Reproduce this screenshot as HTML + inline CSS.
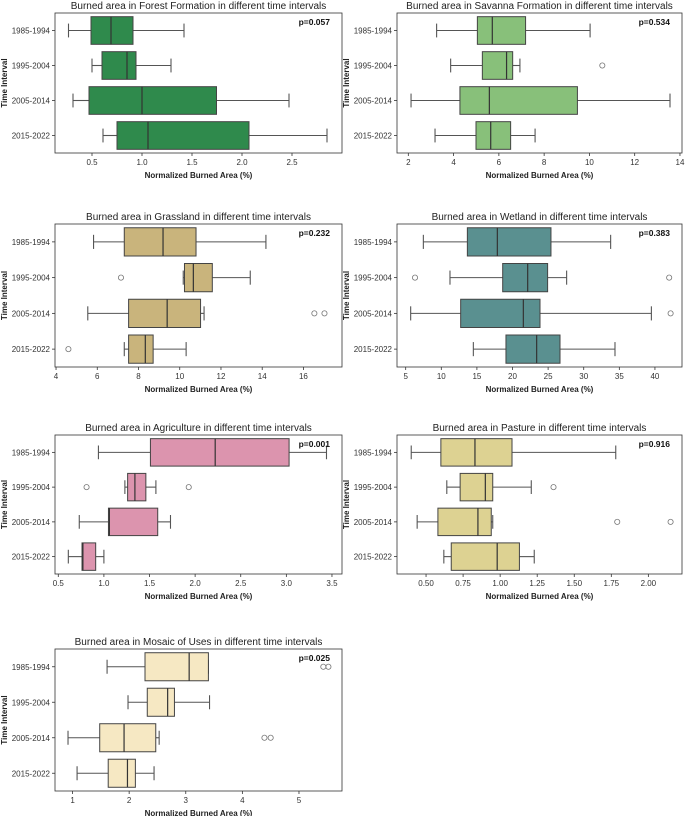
<!DOCTYPE html>
<html><head><meta charset="utf-8"><style>
html,body{margin:0;padding:0;background:#fff;}
svg{display:block;font-family:"Liberation Sans",sans-serif;}
</style></head><body>
<svg id="chart" width="685" height="816" viewBox="0 0 685 816" xmlns="http://www.w3.org/2000/svg"></svg>
<script>
const categories = ["1985-1994","1995-2004","2005-2014","2015-2022"];
// each row: [whiskerLow, q1, median, q3, whiskerHigh]
const forestStats = [[0.265,0.49,0.69,0.91,1.42],[0.50,0.60,0.85,0.94,1.29],[0.31,0.47,1.0,1.745,2.47],[0.61,0.75,1.06,2.07,2.85]];
const forestOutliers = [[],[],[],[]];
const savannaStats = [[3.25,5.05,5.71,7.18,10.03],[3.87,5.27,6.34,6.61,6.93],[2.12,4.28,5.58,9.47,13.56],[3.18,4.99,5.64,6.52,7.6]];
const savannaOutliers = [[],[10.57],[],[]];
const grassStats = [[5.82,7.31,9.19,10.79,14.18],[10.17,10.23,10.66,11.58,13.42],[5.54,7.52,9.39,11.01,11.18],[7.31,7.52,8.33,8.71,10.31]];
const grassOutliers = [[],[7.15],[16.53,17.02],[4.6]];
const wetStats = [[7.48,13.66,17.87,25.4,33.78],[11.22,18.62,22.13,24.93,27.6],[5.7,12.72,21.52,23.86,39.5],[14.5,19.08,23.39,26.67,34.39]];
const wetOutliers = [[],[6.31,42.0],[42.2],[]];
const agriStats = [[0.94,1.51,2.22,3.03,3.44],[1.23,1.26,1.34,1.46,1.57],[0.73,1.05,1.06,1.59,1.73],[0.61,0.76,0.77,0.91,1.0]];
const agriOutliers = [[],[0.81,1.93],[],[]];
const pastStats = [[0.40,0.60,0.83,1.08,1.78],[0.64,0.73,0.90,0.95,1.21],[0.44,0.58,0.85,0.94,0.95],[0.62,0.67,0.98,1.13,1.23]];
const pastOutliers = [[],[1.36],[1.79,2.15],[]];
const mosaicStats = [[1.61,2.28,3.06,3.40,3.40],[1.98,2.32,2.68,2.80,3.42],[0.92,1.48,1.91,2.47,2.53],[1.08,1.63,1.97,2.11,2.44]];
const mosaicOutliers = [[5.43,5.52],[],[4.39,4.5],[]];
const forestTicks = [0.5,1.0,1.5,2.0,2.5];
const savannaTicks = [2,4,6,8,10,12,14];
const grassTicks = [4,6,8,10,12,14,16];
const wetTicks = [5,10,15,20,25,30,35,40];
const agriTicks = [0.5,1.0,1.5,2.0,2.5,3.0,3.5];
const pastTicks = [0.5,0.75,1.0,1.25,1.5,1.75,2.0];
const mosaicTicks = [1,2,3,4,5];
const pValues = ["p=0.057","p=0.534","p=0.232","p=0.383","p=0.001","p=0.916","p=0.025"];

const NS="http://www.w3.org/2000/svg";
const svg=document.getElementById('chart');
function mk(tag,attrs,parent){const e=document.createElementNS(NS,tag);for(const k in attrs)e.setAttribute(k,attrs[k]);(parent||svg).appendChild(e);return e;}

const panels=[
 {name:"forest",title:"Burned area in Forest Formation in different time intervals",stats:forestStats,out:forestOutliers,ticks:forestTicks,dom:[0.13,3.0],x0:55,x1:342,y0:13,y1:153,color:"#2f8a4c",dec:1,p:pValues[0]},
 {name:"savanna",title:"Burned area in Savanna Formation in different time intervals",stats:savannaStats,out:savannaOutliers,ticks:savannaTicks,dom:[1.5,14.09],x0:397,x1:682,y0:13,y1:153,color:"#88c07a",dec:0,p:pValues[1]},
 {name:"grassland",title:"Burned area in Grassland in different time intervals",stats:grassStats,out:grassOutliers,ticks:grassTicks,dom:[3.95,17.87],x0:55,x1:342,y0:224,y1:367,color:"#c9b47c",dec:0,p:pValues[2]},
 {name:"wetland",title:"Burned area in Wetland in different time intervals",stats:wetStats,out:wetOutliers,ticks:wetTicks,dom:[3.78,43.8],x0:397,x1:682,y0:224,y1:367,color:"#5a9090",dec:0,p:pValues[3]},
 {name:"agriculture",title:"Burned area in Agriculture in different time intervals",stats:agriStats,out:agriOutliers,ticks:agriTicks,dom:[0.464,3.61],x0:55,x1:342,y0:435,y1:574,color:"#dc94ae",dec:1,p:pValues[4]},
 {name:"pasture",title:"Burned area in Pasture in different time intervals",stats:pastStats,out:pastOutliers,ticks:pastTicks,dom:[0.304,2.227],x0:397,x1:682,y0:435,y1:574,color:"#ddd292",dec:2,p:pValues[5]},
 {name:"mosaic",title:"Burned area in Mosaic of Uses in different time intervals",stats:mosaicStats,out:mosaicOutliers,ticks:mosaicTicks,dom:[0.69,5.76],x0:55,x1:342,y0:649,y1:791,color:"#f6e8c3",dec:0,p:pValues[6]}
];

panels.forEach(P=>{
  const g=mk('g',{});
  
  
  const xs=v=>P.x0+(v-P.dom[0])/(P.dom[1]-P.dom[0])*(P.x1-P.x0);
  const band=(P.y1-P.y0)/categories.length;
  const yc=i=>P.y0+band*(i+0.5);
  const t=mk('text',{x:(P.x0+P.x1)/2,y:P.y0-4,'text-anchor':'middle','font-size':10,fill:'#222'},g);
  t.textContent=P.title;
  
  
  P.ticks.forEach(v=>{
    const x=xs(v);
    mk('line',{x1:x,x2:x,y1:P.y1,y2:P.y1+3,stroke:'#333','stroke-width':0.8},g);
    const tt=mk('text',{x:x,y:P.y1+12,'text-anchor':'middle','font-size':8,fill:'#333'},g);
    tt.textContent=v.toFixed(P.dec);
    
    
  });
  categories.forEach((c,i)=>{
    const y=yc(i);
    mk('line',{x1:P.x0-3,x2:P.x0,y1:y,y2:y,stroke:'#333','stroke-width':0.8},g);
    const tl=mk('text',{x:P.x0-5,y:y+3,'text-anchor':'end','font-size':8,fill:'#333'},g);
    tl.textContent=c;
    
    
    const s=P.stats[i];
    const bh=band*0.79;
    mk('line',{x1:xs(s[0]),x2:xs(s[1]),y1:y,y2:y,stroke:'#555','stroke-width':1.1},g);
    mk('line',{x1:xs(s[3]),x2:xs(s[4]),y1:y,y2:y,stroke:'#555','stroke-width':1.1},g);
    mk('line',{x1:xs(s[0]),x2:xs(s[0]),y1:y-bh/4,y2:y+bh/4,stroke:'#555','stroke-width':1.1},g);
    mk('line',{x1:xs(s[4]),x2:xs(s[4]),y1:y-bh/4,y2:y+bh/4,stroke:'#555','stroke-width':1.1},g);
    const r=mk('rect',{x:xs(s[1]),y:y-bh/2,width:xs(s[3])-xs(s[1]),height:bh,fill:P.color,stroke:'#444','stroke-width':1},g);
    
    
    mk('line',{x1:xs(s[2]),x2:xs(s[2]),y1:y-bh/2,y2:y+bh/2,stroke:'#333','stroke-width':1.2},g);
    P.out[i].forEach(v=>{
      const o=mk('circle',{cx:xs(v),cy:y,r:2.6,fill:'none',stroke:'#777','stroke-width':0.8},g);
      
      
    });
  });
  mk('rect',{x:P.x0,y:P.y0,width:P.x1-P.x0,height:P.y1-P.y0,fill:'none',stroke:'#333','stroke-width':0.8},g);
  const pv=mk('text',{x:P.x1-12,y:P.y0+12,'text-anchor':'end','font-size':8.5,'font-weight':'bold',fill:'#111'},g);
  pv.textContent=P.p;
  
  
  const xl=mk('text',{x:(P.x0+P.x1)/2,y:P.y1+25,'text-anchor':'middle','font-size':8,'font-weight':'bold',fill:'#222'},g);
  xl.textContent="Normalized Burned Area (%)";
  
  
  const ym=(P.y0+P.y1)/2, yx=P.x0-48;
  const yl=mk('text',{x:yx,y:ym,'text-anchor':'middle','font-size':8,'font-weight':'bold',fill:'#222',transform:`rotate(-90 ${yx} ${ym})`},g);
  yl.textContent="Time Interval";
  
  
});
</script>
</body></html>
